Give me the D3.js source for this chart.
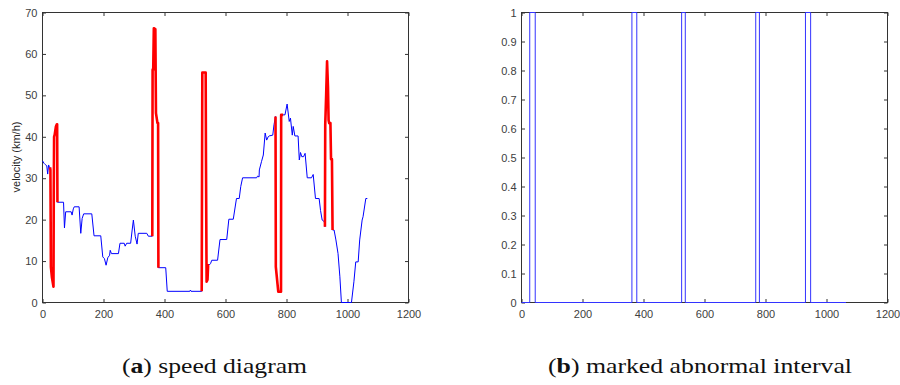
<!DOCTYPE html>
<html>
<head>
<meta charset="utf-8">
<script src="https://cdn.jsdelivr.net/npm/d3@7"></script>
<style>
  body { margin: 0; background: #fff; }
  svg { display: block; }
  .tick text { font-family: "Liberation Sans", Arial, sans-serif; font-size: 11px; fill: #404040; }
  .tick line { stroke: #333; }
  .caption { font-family: "Liberation Serif", "Times New Roman", Times, serif; font-size: 22px; fill: #111; }
</style>
</head>
<body>
<div id="chart"></div>
<script>
// speed samples (time index, km/h)
const speedT = [0,5,9,14,17,20,23,25,26,27.5,31,36,37,38,40,44,47,48,49,69,72,76,94,97,101,104,120,125.5,130,135,161.6,169,191,197.6,203,208.5,214,220,222,226,249,254,268,271,276,289,294,298,304,310,314,342,347,
  360,361,363,365,370,372,377,379,380,404,409,483,485,487,522,524,535,536,538,541,543,546,551,555,574,582,604,611,625.5,636,645,650,656,702,705,710,711,718,724,730,735,740,743,755,759,
  764,765,773,782,782.5,789,795,802,809,813,819,822,827.5,838,842,846,850,856,861,868,882,887.5,895,907,911.6,917,924,926,927,930,933,936,938,940,944,946,949,951,956,962,969,975,980,1013,1021,1027,1035,1040,1048,1051,1060,1065];
const speedV = [34.2,33.6,33.3,33,31,33.2,32.6,32.6,32,8.6,6,3.8,27,40,40.5,42.5,43,43,24.2,24.2,18,21.9,21.9,21.1,22.6,23.1,23.1,16.7,20.3,21.4,21.4,16.1,16.1,11,10.6,9,10.8,11.4,12.6,11.8,11.8,14.3,14.3,13.6,14.3,14.3,17.5,19.9,16,14.1,16.7,16.7,16,
  16,56.2,56.2,66.2,66,45.7,43.3,43.3,8.4,8.4,2.7,2.7,3,2.7,2.7,55.5,55.5,34.4,5,5.5,9,9,9.4,10.2,10.2,15.2,15.2,20.1,20.1,25.1,25.1,28,30.1,30.1,30.5,30.3,32,34,35.6,40.9,39.2,40,40.2,40.4,42.9,
  44.9,8.6,2.6,2.6,45.3,45.3,45.3,47.9,43.7,44.5,40.4,42.5,40.2,40.2,34.4,36.2,35.2,35.2,36,30.1,30.1,30.9,25.1,25.1,22.2,19.9,19.5,18.3,42.9,50,58.2,52,44,43.3,43.3,34.6,34.6,17.5,17.5,15.1,11.8,6.2,0,0,5,9.8,9.8,15.1,19.9,20.7,25.1,25.1];

// abnormal intervals highlighted in red on panel (a)
const redStart = [25, 360, 522, 764, 926];
const redEnd = [49, 380, 546, 789, 951];

// marked abnormal interval flags on panel (b)
const flagOn = [27, 362, 525, 768, 931];
const flagOff = [45, 378, 537, 780, 948];
const flagLast = 1064;

const xTicks = [0, 200, 400, 600, 800, 1000, 1200];
const speedTicks = [0, 10, 20, 30, 40, 50, 60, 70];
const flagTicks = [0, 0.1, 0.2, 0.3, 0.4, 0.5, 0.6, 0.7, 0.8, 0.9, 1];

const svg = d3.select("#chart").append("svg")
    .attr("width", 900)
    .attr("height", 385);

function drawFrame(g, x, y, yTicks, yFmt) {
    const [x0, x1] = x.range();
    const [y0, y1] = y.range();
    const tk = 3.5;

    const bottom = g.append("g").attr("transform", `translate(0,${y0})`)
        .call(d3.axisBottom(x).tickValues(xTicks).tickSizeInner(-tk).tickSizeOuter(0).tickPadding(8).tickFormat(d3.format("d")));
    const top = g.append("g").attr("transform", `translate(0,${y1})`)
        .call(d3.axisTop(x).tickValues(xTicks).tickSizeInner(-tk).tickSizeOuter(0).tickFormat(""));
    const left = g.append("g").attr("transform", `translate(${x0},0)`)
        .call(d3.axisLeft(y).tickValues(yTicks).tickSizeInner(-tk).tickSizeOuter(0).tickPadding(5).tickFormat(yFmt));
    const right = g.append("g").attr("transform", `translate(${x1},0)`)
        .call(d3.axisRight(y).tickValues(yTicks).tickSizeInner(-tk).tickSizeOuter(0).tickFormat(""));
    [bottom, top, left, right].forEach(a => a.select(".domain").remove());

    g.append("rect")
        .attr("x", x0).attr("y", y1)
        .attr("width", x1 - x0).attr("height", y0 - y1)
        .attr("fill", "none").attr("stroke", "#333").attr("stroke-width", 1);
}

// ---- panel (a): speed diagram
const xA = d3.scaleLinear().domain([0, 1200]).range([42.5, 408.5]);
const yA = d3.scaleLinear().domain([0, 70]).range([302.5, 12.5]);
const gA = svg.append("g");

drawFrame(gA, xA, yA, speedTicks, d3.format("d"));

const speed = speedT.map((t, i) => ({t: t, v: speedV[i]}));
const lineA = d3.line().x(d => xA(d.t)).y(d => yA(d.v));

gA.append("path")
    .datum(speed)
    .attr("d", lineA)
    .attr("fill", "none")
    .attr("stroke", "#0000ff")
    .attr("stroke-width", 1);

redStart.forEach((s, i) => {
    const seg = speed.filter(d => d.t >= s && d.t <= redEnd[i]);
    gA.append("path")
        .datum(seg)
        .attr("d", lineA)
        .attr("fill", "none")
        .attr("stroke", "#ff0000")
        .attr("stroke-width", 2.6)
        .attr("stroke-linejoin", "round");
});

gA.append("text")
    .attr("transform", `translate(16.5,157) rotate(-90)`)
    .attr("text-anchor", "middle")
    .attr("dy", "0.35em")
    .attr("font-family", "Liberation Sans, Arial, sans-serif")
    .attr("font-size", 11)
    .attr("fill", "#262626")
    .text("velocity (km/h)");

// ---- panel (b): marked abnormal interval
const xB = d3.scaleLinear().domain([0, 1200]).range([521.5, 887.5]);
const yB = d3.scaleLinear().domain([0, 1]).range([302.5, 12.5]);
const gB = svg.append("g");

drawFrame(gB, xB, yB, flagTicks, d => d === 0 || d === 1 ? d3.format("d")(d) : d3.format(".1f")(d));

const flags = [{t: 0, f: 0}];
flagOn.forEach((s, i) => {
    flags.push({t: s, f: 1});
    flags.push({t: flagOff[i], f: 0});
});
flags.push({t: flagLast, f: 0});

gB.append("path")
    .datum(flags)
    .attr("d", d3.line().curve(d3.curveStepAfter).x(d => xB(d.t)).y(d => yB(d.f)))
    .attr("fill", "none")
    .attr("stroke", "#3333ff")
    .attr("stroke-width", 1);

// ---- captions
function caption(x, letter, rest, len) {
    const t = svg.append("text")
        .attr("class", "caption")
        .attr("x", x).attr("y", 373)
        .attr("textLength", len)
        .attr("lengthAdjust", "spacingAndGlyphs");
    t.append("tspan").text("(");
    t.append("tspan").attr("font-weight", "bold").text(letter);
    t.append("tspan").text(") " + rest);
}
caption(122, "a", "speed diagram", 185);
caption(548, "b", "marked abnormal interval", 304);
</script>
</body>
</html>
